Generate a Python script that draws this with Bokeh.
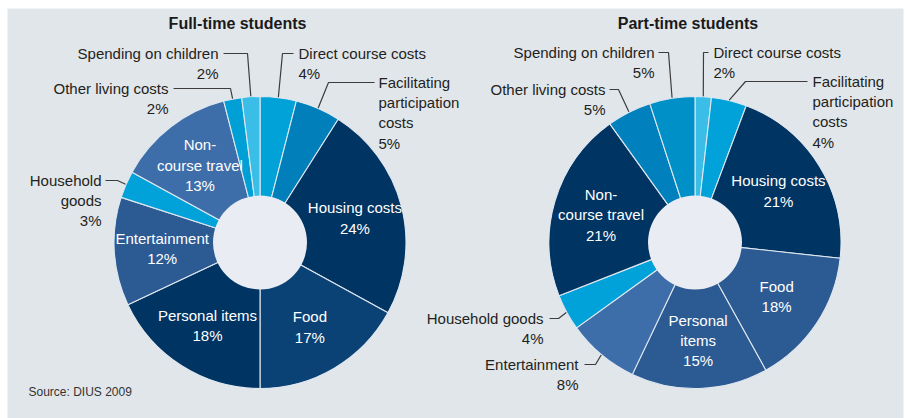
import math
from bokeh.plotting import figure
from bokeh.models import ColumnDataSource, Range1d
from bokeh.embed import file_html
from bokeh.resources import INLINE
from bokeh.core.properties import value

# ---------------- data ----------------
categories = ["Direct course costs", "Facilitating participation costs", "Housing costs",
              "Food", "Personal items", "Entertainment", "Household goods",
              "Non-course travel", "Other living costs", "Spending on children"]

full_time_values = [4, 5, 24, 17, 18, 12, 3, 13, 2, 2]
full_time_labels = ["4%", "5%", "24%", "17%", "18%", "12%", "3%", "13%", "2%", "2%"]

# shares as drawn in the source picture (its printed labels add to 103%)
part_time_values = [1.8, 3.9, 21, 15.2, 15.1, 8, 4, 21, 4.9, 5]
part_time_labels = ["2%", "4%", "21%", "18%", "15%", "8%", "4%", "21%", "5%", "5%"]

full_time_names = ["Direct course costs", "Facilitating\nparticipation\ncosts", "Housing costs",
                   "Food", "Personal items", "Entertainment", "Household\ngoods",
                   "Non-\ncourse travel", "Other living costs", "Spending on children"]
part_time_names = ["Direct course costs", "Facilitating\nparticipation\ncosts", "Housing costs",
                   "Food", "Personal\nitems", "Entertainment", "Household goods",
                   "Non-\ncourse travel", "Other living costs", "Spending on children"]

ft_inside = ["Housing costs", "Food", "Personal items", "Entertainment", "Non-course travel"]
pt_inside = ["Housing costs", "Food", "Personal items", "Non-course travel"]

# ---------------- styles ----------------
BG = "#e1e6eb"
HOLE = "#e9ecf3"
NAVY = "#003463"
ft_colors = ["#00a2d8", "#007fba", NAVY, "#0b4275", NAVY, "#2c5a93",
             "#00a2d9", "#3e6ea9", "#00a0d6", "#3abde7"]
pt_colors = ["#3abde7", "#00a2d9", NAVY, "#2c5a93", "#2c5a93", "#3e6ea9",
             "#00a2d9", NAVY, "#0080bd", "#0090c8"]

FONT = value("Liberation Sans")

# outer label layout in page pixels: text x, first line y, align, line start x, elbow x
ft_outer_layout = {
    "Spending on children": (218, 53, "right", 223, 247),
    "Other living costs": (168, 88, "right", 173, 230),
    "Direct course costs": (298, 53, "left", 293, 282),
    "Facilitating participation costs": (378, 82, "left", 374, 328),
    "Household goods": (101, 180, "right", 105, 117),
}
pt_outer_layout = {
    "Spending on children": (654, 52, "right", 658, 668),
    "Other living costs": (605, 89, "right", 609, 618),
    "Direct course costs": (713, 52, "left", 708, 703),
    "Facilitating participation costs": (812, 81, "left", 807, 745),
    "Household goods": (543, 318, "right", 549, 558),
    "Entertainment": (578, 364, "right", 584, 595),
}

LEFT, TOP, RIGHT = 7, 8, 2
W, H = 905, 418
FW, FH = W - LEFT - RIGHT, H - TOP
p = figure(width=W, height=H, x_range=Range1d(0, FW), y_range=Range1d(0, FH),
           output_backend="svg", toolbar_location=None,
           min_border_left=LEFT, min_border_top=TOP, min_border_right=RIGHT, min_border_bottom=0,
           x_axis_type=None, y_axis_type=None)
p.grid.visible = False
p.outline_line_color = None
p.background_fill_color = BG
p.border_fill_color = "white"


def X(px):
    return px - LEFT


def Y(py):
    return H - py


R_OUT, R_IN, R_LAB = 146, 47, 98


def draw_donut(cx_px, cy_px, values, colors, names, pcts, inside, layout, title, title_x):
    cx, cy = X(cx_px), Y(cy_px)
    total = float(sum(values))
    f0s, f1s, acc = [], [], 0.0
    for v in values:
        f0s.append(acc / total)
        acc += v
        f1s.append(acc / total)
    src = ColumnDataSource(dict(
        x=[cx] * len(values), y=[cy] * len(values),
        start=[math.pi / 2 - 2 * math.pi * f for f in f0s],
        end=[math.pi / 2 - 2 * math.pi * f for f in f1s],
        color=colors))
    p.annular_wedge(x="x", y="y", inner_radius=R_IN - 2, outer_radius=R_OUT,
                    start_angle="start", end_angle="end", direction="clock",
                    fill_color="color", line_color="#dfe7ef", line_width=1.1, source=src)
    p.circle(x=[cx], y=[cy], radius=R_IN, fill_color=HOLE, line_color=None)

    in_x, in_y, in_t = [], [], []
    lx, ly, lt, rx, ry, rt = [], [], [], [], [], []
    xs, ys = [], []
    for cat, name, pct, f0, f1 in zip(categories, names, pcts, f0s, f1s):
        th = 2 * math.pi * (f0 + f1) / 2
        if cat in inside:
            in_x.append(cx + R_LAB * math.sin(th))
            in_y.append(cy + R_LAB * math.cos(th))
            in_t.append(name + "\n" + pct)
        elif cat in layout:
            tx, ty, align, sx, ex = layout[cat]
            ex_d, ey_d = cx + (R_OUT + 0.5) * math.sin(th), cy + (R_OUT + 0.5) * math.cos(th)
            xs.append([X(sx), X(ex), ex_d])
            ys.append([Y(ty), Y(ty), ey_d])
            if align == "left":
                lx.append(X(tx)); ly.append(Y(ty - 9)); lt.append(name + "\n" + pct)
            else:
                rx.append(X(tx)); ry.append(Y(ty - 9)); rt.append(name + "\n" + pct)
    p.multi_line(xs=xs, ys=ys, line_color="#3c3c3c", line_width=1.2)
    p.text(x=in_x, y=in_y, text=in_t, text_align="center", text_baseline="middle",
           text_color="white", text_font=FONT, text_font_size="15px", text_line_height=1.2)
    p.text(x=lx, y=ly, text=lt, text_align="left", text_baseline="top",
           text_color="#231f20", text_font=FONT, text_font_size="15px", text_line_height=1.2)
    p.text(x=rx, y=ry, text=rt, text_align="right", text_baseline="top",
           text_color="#231f20", text_font=FONT, text_font_size="15px", text_line_height=1.2)
    p.text(x=[X(title_x)], y=[Y(23)], text=[title], text_align="center", text_baseline="middle",
           text_color="#1a1a1a", text_font=FONT, text_font_size="16px", text_font_style="bold")


draw_donut(259.5, 242, full_time_values, ft_colors, full_time_names, full_time_labels,
           ft_inside, ft_outer_layout, "Full-time students", 237)
draw_donut(694.5, 242, part_time_values, pt_colors, part_time_names, part_time_labels,
           pt_inside, pt_outer_layout, "Part-time students", 687.5)

p.text(x=[X(28)], y=[Y(391)], text=["Source: DIUS 2009"], text_align="left",
       text_baseline="middle", text_color="#333333", text_font=FONT, text_font_size="12px")

open("out.html", "w").write(file_html(p, INLINE))
